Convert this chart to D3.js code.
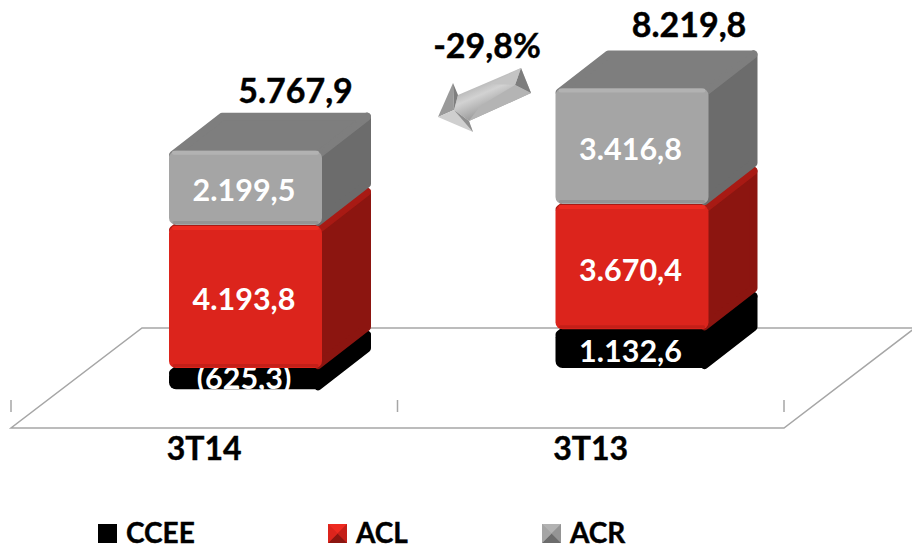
<!DOCTYPE html>
<html>
<head>
<meta charset="utf-8">
<script src="https://cdn.jsdelivr.net/npm/d3@7"></script>
<style>
  html, body { margin: 0; padding: 0; background: #fff; }
  svg { display: block; }
  text { font-family: Lato, "Open Sans", sans-serif; font-weight: 700; }
</style>
</head>
<body>
<svg id="chart" width="912" height="546"></svg>
<script>
const categories = ["3T14", "3T13"]
const seriesNames = ["CCEE", "ACL", "ACR"]
const ccee = [-625.3, 1132.6]
const acl = [4193.8, 3670.4]
const acr = [2199.5, 3416.8]
const totals = [5767.9, 8219.8]
const variation = "-29,8%"

const colors = {
    CCEE: { front: "#000000", side: "#000000", top: "#000000", hi: "#000000", lo: "#000000" },
    ACL: { front: "#dc241c", side: "#8c1510", top: "#a81a14", hi: "#ee2a20", lo: "#c41f18" },
    ACR: { front: "#a5a5a5", side: "#6c6c6c", top: "#7e7e7e", hi: "#b2b2b2", lo: "#949494" }
}

const ptBr = v => d3.format(",.1f")(v).replace(/,/g, "#").replace(".", ",").replace(/#/g, ".")
const fmt = v => v < 0 ? `(${ptBr(-v)})` : ptBr(v)

const svg = d3.select("#chart")
const depthX = 49
const depthY = 38
const barWidth = 153

const x = d3.scaleBand().domain(categories).range([11, 784])
const y = d3.scaleLinear().domain([0, 8000]).range([369, 96])

const rows = categories.map((c, i) => ({ cat: c, CCEE: ccee[i], ACL: acl[i], ACR: acr[i] }))
const stacked = d3.stack().keys(seriesNames).offset(d3.stackOffsetDiverging)(rows)

// floor of the 3d chart
const floor = svg.append("g")
floor.append("path")
    .attr("d", d3.line()([[915, 328], [784, 428], [11, 428], [142, 328], [915, 328]]))
    .attr("fill", "none")
    .attr("stroke", "#a6a6a6")
    .attr("stroke-width", 1.5)

floor.selectAll("line")
    .data([11, 397.5, 784])
    .join("line")
    .attr("x1", d => d).attr("x2", d => d)
    .attr("y1", 400).attr("y2", 412)
    .attr("stroke", "#a6a6a6")
    .attr("stroke-width", 1.5)

floor.selectAll("text")
    .data(categories)
    .join("text")
    .attr("x", d => x(d) + x.bandwidth() / 2)
    .attr("y", 460)
    .attr("text-anchor", "middle")
    .attr("font-size", 32)
    .attr("fill", "#000")
    .attr("stroke", "#000").attr("stroke-width", 0.4)
    .text(d => d)

// one block: side and top first, front over them
const rounded = (pts, sel, fill) => sel.append("path")
    .attr("d", d3.line()(pts) + "Z")
    .attr("fill", fill)
    .attr("stroke", fill)
    .attr("stroke-width", 8)
    .attr("stroke-linejoin", "round")

const blocks = svg.append("g")
categories.forEach((cat, i) => {
    const bar = blocks.append("g")
    const x0 = x(cat) + 158
    const x1 = x0 + barWidth
    stacked.forEach(layer => {
        const c = colors[layer.key]
        const [lo, hi] = layer[i]
        const yTop = y(hi)
        const yBot = y(lo)
        const g = bar.append("g")
        // inset by half the stroke so the rounded edge lands on the real outline
        const t = yTop + 4, b = yBot - 4, l = x0 + 4, r = x1 - 4
        rounded([[r, t], [r + depthX, t - depthY], [r + depthX, b - depthY], [r, b]], g, c.side)
        rounded([[l, t], [l + depthX, t - depthY], [r + depthX, t - depthY], [r, t]], g, c.top)
        g.append("rect")
            .attr("x", x0).attr("y", yTop)
            .attr("width", barWidth).attr("height", Math.max(0, yBot - yTop - 1))
            .attr("rx", 7)
            .attr("fill", c.front)
        if (layer.key !== "CCEE") {
            // bevel highlights
            g.append("path")
                .attr("d", d3.line()([[x0 + 5, yTop + 2], [x1 - 5, yTop + 2]]))
                .attr("stroke", c.hi).attr("stroke-width", 4).attr("stroke-linecap", "round")
            g.append("path")
                .attr("d", d3.line()([[x0 + 5, yBot - 3.5], [x1 - 5, yBot - 3.5]]))
                .attr("stroke", c.lo).attr("stroke-width", 3).attr("stroke-linecap", "round")
            g.append("path")
                .attr("d", d3.line()([[x1 + 3, yTop - 1], [x1 + depthX - 4, yTop - depthY + 4]]))
                .attr("stroke", c.top).attr("stroke-width", 5).attr("stroke-linecap", "round")
        }
        const v = rows[i][layer.key]
        g.append("text")
            .attr("x", x0 + barWidth / 2 - 1.5)
            .attr("y", layer.key === "CCEE" ? yBot - (v < 0 ? 1 : 7) : (yTop + yBot) / 2 + 13)
            .attr("text-anchor", "middle")
            .attr("font-size", 30.5)
            .attr("fill", "#fff")
            .text(fmt(v))
    })
})

// totals, sitting to the right of the bar over its back edge
const totalShift = [50, 57]
svg.append("g").selectAll("text")
    .data(totals)
    .join("text")
    .attr("x", (d, i) => x(categories[i]) + 158 + barWidth / 2 + totalShift[i])
    .attr("y", (d, i) => y(d3.sum(stacked, l => Math.max(0, rows[i][l.key]))) - depthY - (i ? 13 : 10))
    .attr("text-anchor", "middle")
    .attr("font-size", 34)
    .attr("fill", "#000")
    .attr("stroke", "#000").attr("stroke-width", 0.4)
    .text(d => ptBr(d))

// variation arrow
const defs = svg.append("defs")
const shaftGrad = defs.append("linearGradient").attr("id", "shaft")
    .attr("gradientUnits", "userSpaceOnUse")
    .attr("x1", 482).attr("y1", 78).attr("x2", 495).attr("y2", 108)
shaftGrad.selectAll("stop")
    .data([[0, "#aeaeae"], [0.45, "#d2d2d2"], [1, "#a0a0a0"]])
    .join("stop")
    .attr("offset", d => d[0])
    .attr("stop-color", d => d[1])

const arrow = svg.append("g")
const facets = [
    [[[458, 95], [521, 68], [531, 93], [469, 121], [454, 110]], "url(#shaft)"],
    [[[521, 68], [531, 93], [515, 85]], "#7d7d7d"],
    [[[521, 68], [515, 85], [490, 84]], "#c4c4c4"],
    [[[515, 85], [531, 93], [469, 121], [480, 106]], "#b4b4b4"],
    [[[438, 117], [453, 83], [454, 110]], "#9a9a9a"],
    [[[453, 83], [458, 95], [454, 110]], "#7f7f7f"],
    [[[438, 117], [454, 110], [469, 121], [473, 132]], "#cfcfcf"],
    [[[454, 110], [469, 121], [473, 132]], "#8e8e8e"]
]
arrow.selectAll("path")
    .data(facets)
    .join("path")
    .attr("d", d => d3.line()(d[0]) + "Z")
    .attr("fill", d => d[1])

svg.append("text")
    .attr("x", 487).attr("y", 58)
    .attr("text-anchor", "middle")
    .attr("font-size", 34)
    .attr("fill", "#000")
    .attr("stroke", "#000").attr("stroke-width", 0.4)
    .text(variation)

// legend
const legendXs = { CCEE: 98, ACL: 328, ACR: 542 }
const legend = svg.append("g").selectAll("g")
    .data(seriesNames)
    .join("g")
    .attr("transform", d => `translate(${legendXs[d]},524)`)

legend.each(function (d) {
    const g = d3.select(this)
    const s = 19
    const c = colors[d]
    const m = s / 2
    g.append("rect").attr("width", s).attr("height", s).attr("fill", c.front)
    const faces = [
        [[0, 0], [s, 0], [m, m], c.hi],
        [[s, 0], [s, s], [m, m], c.lo],
        [[s, s], [0, s], [m, m], c.side],
        [[0, s], [0, 0], [m, m], c.front]
    ]
    faces.forEach(f => g.append("path")
        .attr("d", d3.line()(f.slice(0, 3)) + "Z")
        .attr("fill", f[3]))
    g.append("text")
        .attr("x", 28).attr("y", 18.5)
        .attr("font-size", 28)
        .attr("fill", "#000")
        .attr("stroke", "#000").attr("stroke-width", 0.4)
        .text(d)
})
</script>
</body>
</html>
